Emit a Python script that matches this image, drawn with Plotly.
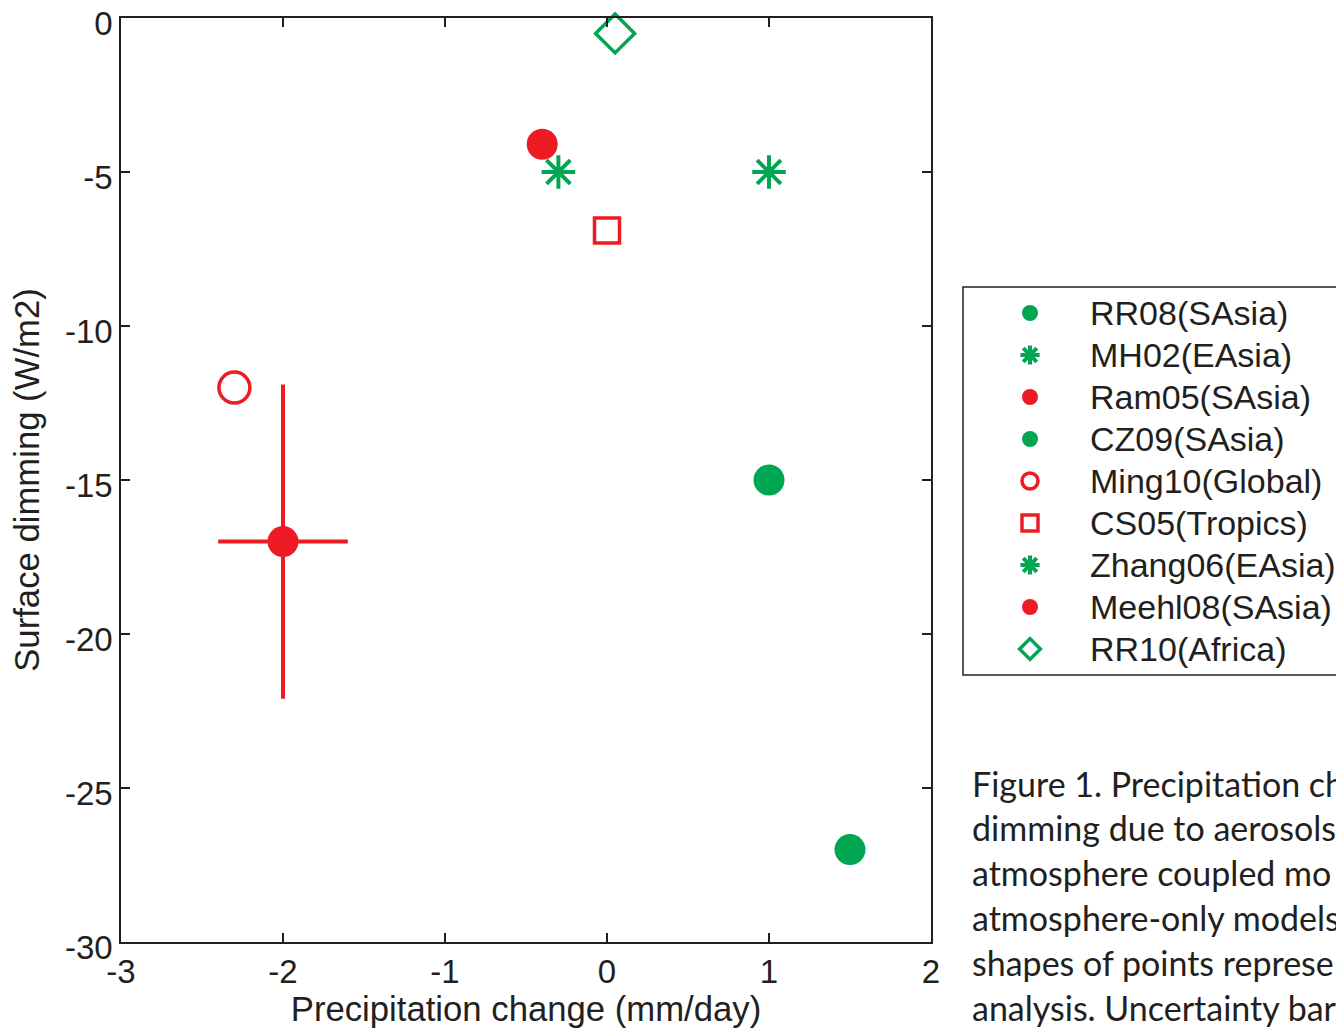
import plotly.graph_objects as go

# ---------------- data ----------------
names = ["RR08(SAsia)", "MH02(EAsia)", "Ram05(SAsia)", "CZ09(SAsia)",
         "Ming10(Global)", "CS05(Tropics)", "Zhang06(EAsia)", "Meehl08(SAsia)",
         "RR10(Africa)"]
precip_change = [1.5, -0.3, -0.4, 1.0, -2.3, 0.0, 1.0, -2.0, 0.05]
surface_dimming = [-27.0, -5.0, -4.1, -15.0, -12.0, -6.9, -5.0, -17.0, -0.5]
# uncertainty (only Meehl08)
precip_err = [None, None, None, None, None, None, None, 0.4, None]
dimming_err = [None, None, None, None, None, None, None, 5.1, None]

x_tickvals = [-3, -2, -1, 0, 1, 2]
x_ticktext = ["-3", "-2", "-1", "0", "1", "2"]
y_tickvals = [0, -5, -10, -15, -20, -25, -30]
y_ticktext = ["0", "-5", "-10", "-15", "-20", "-25", "-30"]

caption_lines = ["Figure 1. Precipitation ch",
                 "dimming due to aerosols",
                 "atmosphere coupled mo",
                 "atmosphere-only models",
                 "shapes of points represe",
                 "analysis. Uncertainty bar"]

# ---------------- styles ----------------
GREEN = "#00A651"
RED = "#ED1C24"
INK = "#231F20"
FONT = "Liberation Sans, Arial, Helvetica, sans-serif"
styles = [
    dict(symbol="circle", color=GREEN, size=31, open=False),
    dict(symbol="asterisk-open", color=GREEN, size=28, open=True),
    dict(symbol="circle", color=RED, size=31, open=False),
    dict(symbol="circle", color=GREEN, size=31, open=False),
    dict(symbol="circle-open", color=RED, size=31, open=True),
    dict(symbol="square-open", color=RED, size=25, open=True),
    dict(symbol="asterisk-open", color=GREEN, size=28, open=True),
    dict(symbol="circle", color=RED, size=31, open=False),
    dict(symbol="diamond-open", color=GREEN, size=30, open=True),
]

OFF = 8  # page body margin
W, H = 1344 - OFF, 1030 - OFF
ML, MT = 121 - OFF, 18 - OFF
PW, PH = 810, 924
MR, MB = W - ML - PW, H - MT - PH


def px_to_paper_x(px):
    return (px - OFF - ML) / PW


def px_to_paper_y(py):
    return (MT + PH - (py - OFF)) / PH


fig = go.Figure()
for i, name in enumerate(names):
    st = styles[i]
    marker = dict(symbol=st["symbol"], size=st["size"], color=st["color"])
    if st["open"]:
        marker["line"] = dict(color=st["color"], width=4 if "asterisk" in st["symbol"] else 3.5)
    else:
        marker["line"] = dict(width=0)
    tr = dict(x=[precip_change[i]], y=[surface_dimming[i]], mode="markers",
              name='<span style="font-size:34px">' + name + "</span>",
              marker=marker, cliponaxis=False)
    if precip_err[i] is not None:
        tr["error_x"] = dict(type="data", array=[precip_err[i]], symmetric=True,
                             color=st["color"], thickness=4, width=0)
    if dimming_err[i] is not None:
        tr["error_y"] = dict(type="data", array=[dimming_err[i]], symmetric=True,
                             color=st["color"], thickness=4, width=0)
    fig.add_trace(go.Scatter(**tr))

axis_common = dict(showline=True, linecolor=INK, linewidth=1.5, mirror="ticks",
                   ticks="inside", ticklen=9, tickwidth=1.5, tickcolor=INK,
                   showgrid=False, zeroline=False, ticklabeloverflow="allow",
                   tickfont=dict(size=33, color=INK, family=FONT))

fig.update_xaxes(range=[-3, 2], tickvals=x_tickvals, ticktext=x_ticktext,
                 title=dict(text="Precipitation change (mm/day)", standoff=1,
                            font=dict(size=34.7, color=INK, family=FONT)),
                 **axis_common)
fig.update_yaxes(range=[-30, 0], tickvals=y_tickvals, ticktext=y_ticktext,
                 ticklabelshift=5,
                 title=dict(text="Surface dimming (W/m2)", standoff=16,
                            font=dict(size=34.7, color=INK, family=FONT)),
                 **axis_common)

# legend box frame (extends past right edge of the page, as in the reference)
fig.add_shape(type="rect", xref="paper", yref="paper",
              x0=px_to_paper_x(963), x1=px_to_paper_x(1420),
              y0=px_to_paper_y(675), y1=px_to_paper_y(287),
              line=dict(color=INK, width=1.5), fillcolor="rgba(0,0,0,0)")

# caption lines
for i, line in enumerate(caption_lines):
    fig.add_annotation(text=line, xref="paper", yref="paper",
                       x=px_to_paper_x(970), y=px_to_paper_y(783 + 44.8 * i),
                       xanchor="left", yanchor="middle", showarrow=False,
                       font=dict(size=34, color=INK, family="Lato, Carlito, Calibri, sans-serif"))

fig.update_layout(
    width=W, height=H, autosize=False,
    margin=dict(l=ML, r=MR, t=MT, b=MB, autoexpand=False),
    paper_bgcolor="white", plot_bgcolor="white",
    font=dict(family=FONT, size=33, color=INK),
    showlegend=True,
    legend=dict(x=px_to_paper_x(970), y=px_to_paper_y(287), xanchor="left", yanchor="top",
                bgcolor="rgba(0,0,0,0)", borderwidth=0, itemwidth=110,
                font=dict(size=30, color=INK, family=FONT),
                tracegroupgap=0),
)

fig.write_html("out.html")
